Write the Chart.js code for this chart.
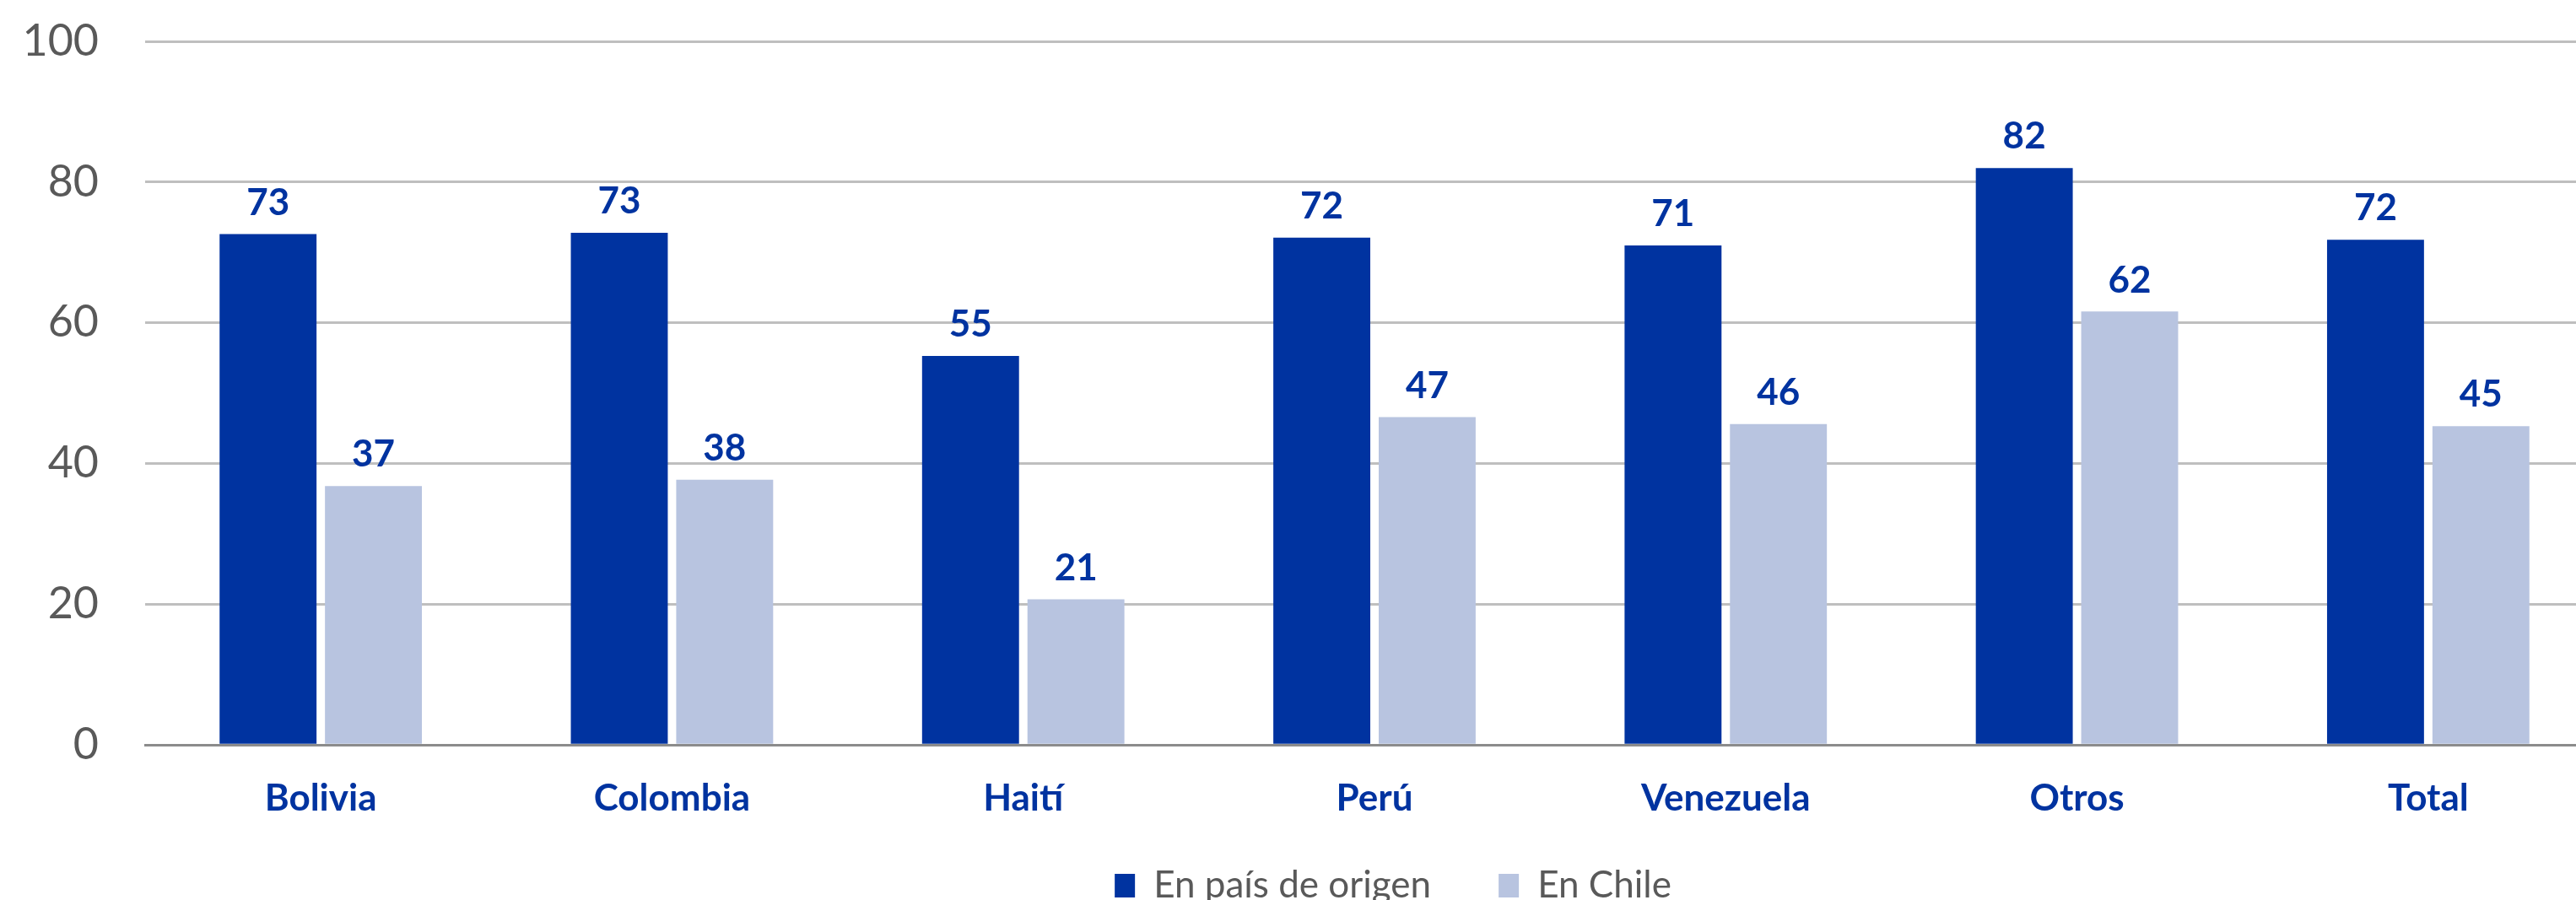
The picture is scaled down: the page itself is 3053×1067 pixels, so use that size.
<!DOCTYPE html>
<html>
<head>
<meta charset="utf-8">
<script src="https://cdn.jsdelivr.net/npm/chart.js@4.4.1/dist/chart.umd.min.js"></script>
<style>
  html, body { margin: 0; padding: 0; background: #fff; overflow: hidden; }
  #wrap { width: 3053px; height: 1067px; overflow: hidden; }
</style>
</head>
<body>
<div id="wrap"><canvas id="chart" width="3086" height="1067"></canvas></div>
<script>
const categories = ["Bolivia", "Colombia", "Haití", "Perú", "Venezuela", "Otros", "Total"];
const seriesNames = ["En país de origen", "En Chile"];
const origenValues = [72.6, 72.8, 55.3, 72.1, 71.0, 82.0, 71.8];
const chileValues = [36.8, 37.7, 20.7, 46.6, 45.6, 61.6, 45.3];
const yTicks = [0, 20, 40, 60, 80, 100];

const DARK = "#0033A0";
const LIGHT = "#B8C4E0";
const FONT = "Lato, 'Open Sans', sans-serif";

// draws the value above each bar
const valueLabels = {
  id: "valueLabels",
  afterDatasetsDraw(chart) {
    const ctx = chart.ctx;
    ctx.save();
    ctx.font = `bold 44px ${FONT}`;
    ctx.fillStyle = DARK;
    ctx.textAlign = "center";
    ctx.textBaseline = "bottom";
    chart.data.datasets.forEach((ds, i) => {
      const meta = chart.getDatasetMeta(i);
      meta.data.forEach((bar, j) => {
        ctx.fillText(String(Math.round(ds.data[j])), bar.x, bar.y - 15);
      });
    });
    ctx.restore();
  },
};

// x axis is squeezed so the legend sits close; let its labels draw past the box,
// and nudge the legend a bit right like the original
const layoutTweaks = {
  id: "layoutTweaks",
  afterLayout(chart) {
    chart.scales.x.bottom = chart.height;
    chart.legend.left += 22;
    chart.legend.right += 22;
  },
};

new Chart(document.getElementById("chart"), {
  type: "bar",
  data: {
    labels: categories,
    datasets: [
      { label: seriesNames[0], data: origenValues, backgroundColor: DARK },
      { label: seriesNames[1], data: chileValues, backgroundColor: LIGHT },
    ],
  },
  options: {
    responsive: false,
    animation: false,
    devicePixelRatio: 1,
    layout: { padding: { top: 49, right: 0, bottom: -15, left: 0 } },
    datasets: {
      bar: { categoryPercentage: 0.6, barPercentage: 0.92 },
    },
    plugins: {
      legend: {
        position: "bottom",
        fullSize: false,
        labels: {
          font: { family: FONT, size: 44 },
          color: "#595959",
          boxWidth: 24,
          boxHeight: 28,
          padding: 80,
        },
      },
      tooltip: { enabled: false },
    },
    scales: {
      x: {
        grid: { display: false, drawTicks: false },
        border: { color: "#8C8C8C", width: 3 },
        ticks: {
          font: { family: FONT, size: 44, weight: "bold" },
          color: DARK,
          padding: 37,
        },
        afterFit(scale) {
          scale.height -= 62;
        },
      },
      y: {
        min: 0,
        max: 100,
        afterBuildTicks(scale) {
          scale.ticks = yTicks.map((v) => ({ value: v }));
        },
        afterFit(scale) {
          scale.width = 172;
          scale.paddingTop = 0;
          scale.paddingBottom = 0;
        },
        grid: { color: "#BFBFBF", lineWidth: 3, drawTicks: false },
        border: { display: false },
        ticks: {
          font: { family: FONT, size: 52 },
          color: "#595959",
          padding: 55,
        },
      },
    },
  },
  plugins: [valueLabels, layoutTweaks],
});
</script>
</body>
</html>
